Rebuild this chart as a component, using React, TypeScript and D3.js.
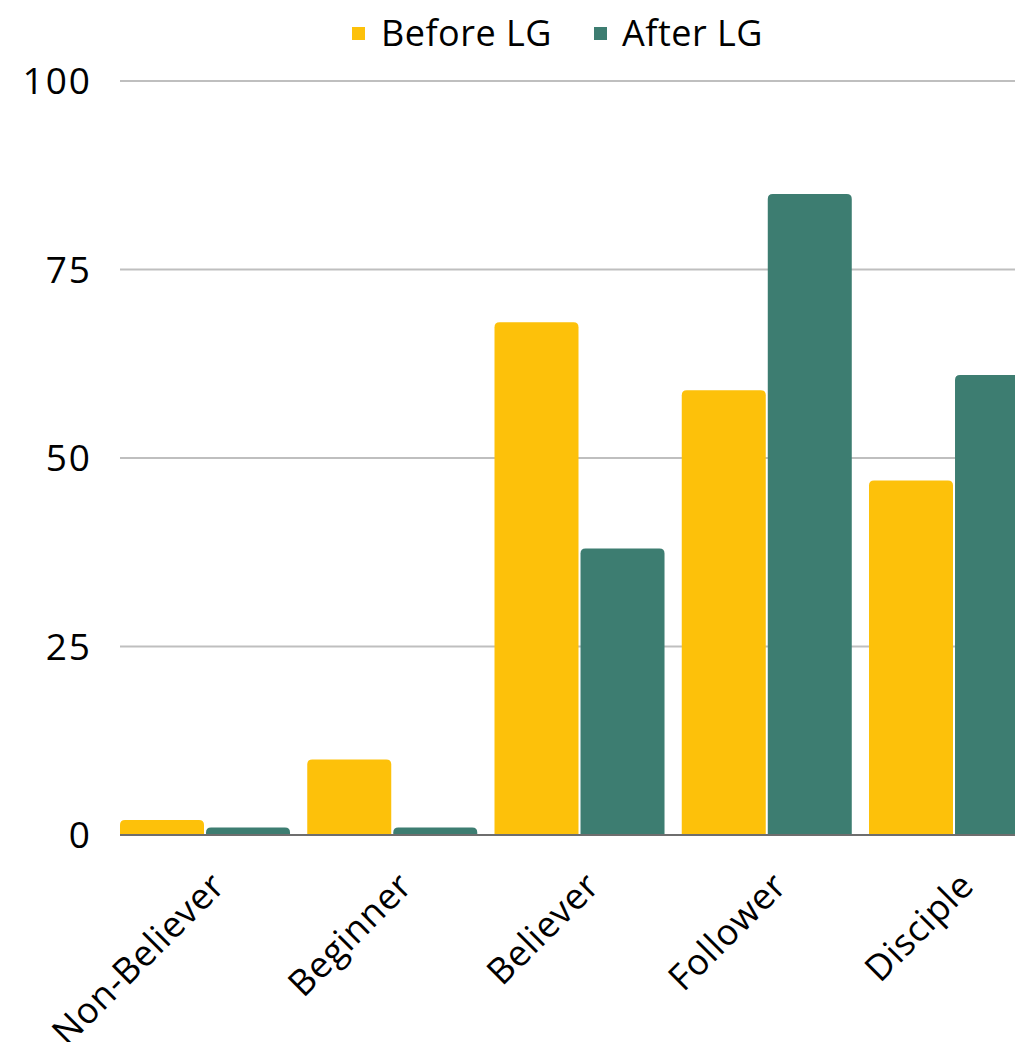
import { useMemo } from 'react';
import * as d3 from 'd3';

const categories = ['Non-Believer', 'Beginner', 'Believer', 'Follower', 'Disciple'];
const seriesNames = ['Before LG', 'After LG'];
const beforeLG = [2, 10, 68, 59, 47];
const afterLG = [1, 1, 38, 85, 61];
const yTicks = [0, 25, 50, 75, 100];
const colors = ['#FDC10A', '#3D7D71'];

const W = 1015;
const H = 1042;
const FONT = '"Open Sans", "Noto Sans", sans-serif';

function topRounded(x: number, y: number, w: number, h: number, r: number) {
  const rr = Math.min(r, h, w / 2);
  return `M${x},${y + h}V${y + rr}Q${x},${y} ${x + rr},${y}H${x + w - rr}Q${x + w},${y} ${x + w},${y + rr}V${y + h}Z`;
}

export default function App() {
  const margin = { left: 120, top: 81, bottom: 835 };
  const step = 187.25;
  const padInner = 0.092;

  const x0 = useMemo(
    () =>
      d3
        .scaleBand<string>()
        .domain(categories)
        .range([margin.left, margin.left + step * (categories.length - padInner)])
        .paddingInner(padInner)
        .paddingOuter(0),
    [],
  );
  const x1 = useMemo(
    () => d3.scaleBand<string>().domain(seriesNames).range([0, x0.bandwidth()]).paddingInner(0.0235),
    [x0],
  );
  const y = useMemo(() => d3.scaleLinear().domain([0, 100]).range([margin.bottom, margin.top]), []);

  const values = [beforeLG, afterLG];

  return (
    <div style={{ position: 'absolute', left: 0, top: 0 }}>
      <svg width={W} height={H} style={{ display: 'block', background: '#fff' }} fontFamily={FONT}>
        {/* legend */}
        <g fontSize={36} fill="#000" letterSpacing={0.5}>
          <rect x={352} y={27} width={13} height={13} fill={colors[0]} />
          <text x={381} y={46}>
            {seriesNames[0]}
          </text>
          <rect x={594} y={27} width={13} height={13} fill={colors[1]} />
          <text x={622} y={46}>
            {seriesNames[1]}
          </text>
        </g>

        {/* grid + y labels */}
        {yTicks.map((t) => (
          <g key={t}>
            {t > 0 && (
              <line x1={margin.left} x2={W} y1={y(t)} y2={y(t)} stroke="#BFBFBF" strokeWidth={2} />
            )}
            <text
              x={92}
              y={y(t) + 13}
              textAnchor="end"
              fontSize={37}
              letterSpacing={2}
              fill="#000"
            >
              {t}
            </text>
          </g>
        ))}

        {/* bars */}
        {categories.map((c, i) => (
          <g key={c} transform={`translate(${x0(c)},0)`}>
            {seriesNames.map((s, j) => {
              const v = values[j][i];
              const yy = y(v);
              return (
                <path
                  key={s}
                  d={topRounded(x1(s)!, yy, x1.bandwidth(), margin.bottom - yy, 5)}
                  fill={colors[j]}
                />
              );
            })}
          </g>
        ))}

        {/* baseline */}
        <line x1={margin.left} x2={W} y1={y(0)} y2={y(0)} stroke="#6E6E6E" strokeWidth={2} />

        {/* category labels */}
        {categories.map((c) => {
          const cx = x0(c)! + x0.bandwidth() / 2;
          return (
            <text
              key={c}
              transform={`translate(${cx + 4},${870}) rotate(-45)`}
              textAnchor="end"
              dy="0.7em"
              fontSize={36}
              letterSpacing={0.7}
              fill="#000"
            >
              {c}
            </text>
          );
        })}
      </svg>
    </div>
  );
}
